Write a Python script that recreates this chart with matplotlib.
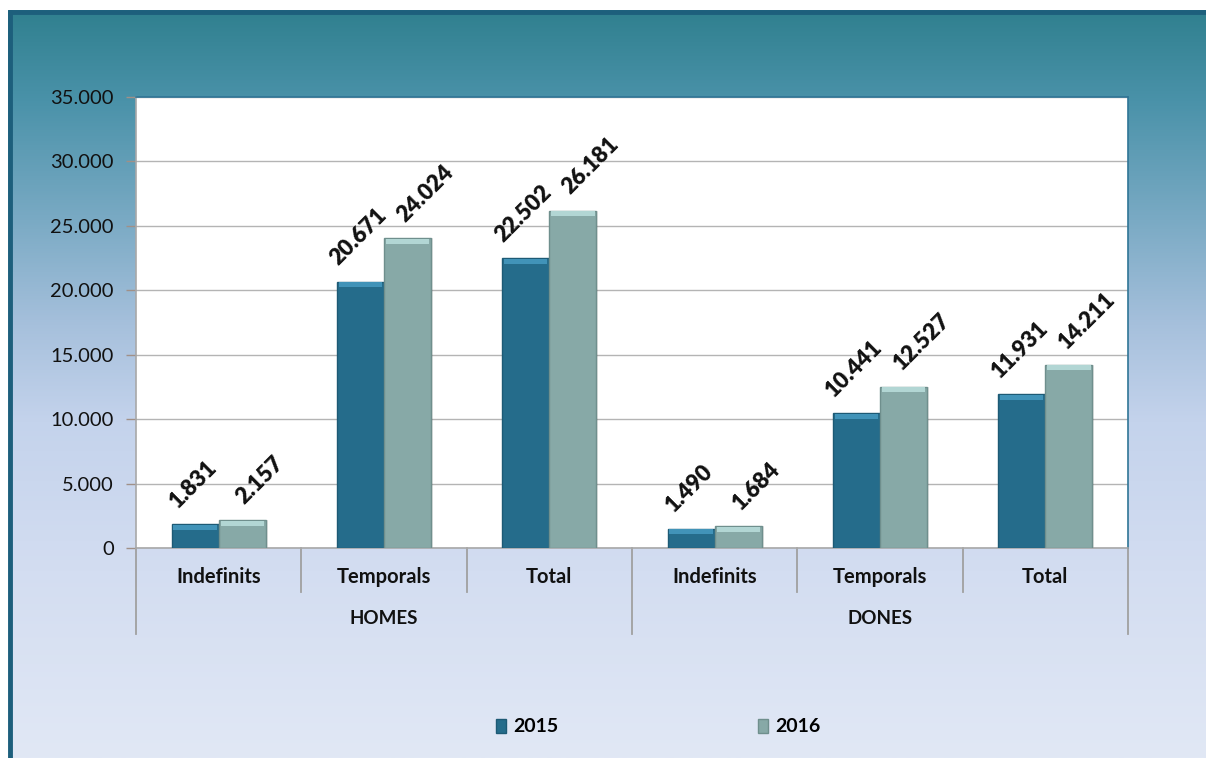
import matplotlib
matplotlib.use("Agg")
import matplotlib.pyplot as plt
import numpy as np
from matplotlib.colors import LinearSegmentedColormap
from matplotlib.patches import Patch
from matplotlib.transforms import blended_transform_factory

plt.rcParams['font.family'] = ['Lato', 'DejaVu Sans']

categories = ["Indefinits", "Temporals", "Total", "Indefinits", "Temporals", "Total"]
groups = ["HOMES", "DONES"]
series_names = ["2015", "2016"]
values_2015 = [1831, 20671, 22502, 1490, 10441, 11931]
values_2016 = [2157, 24024, 26181, 1684, 12527, 14211]
yticks = [0, 5000, 10000, 15000, 20000, 25000, 30000, 35000]
ytick_labels = ["0", "5.000", "10.000", "15.000", "20.000", "25.000", "30.000", "35.000"]

def fmt(v):
    return f"{v:,}".replace(",", ".")

W, H = 1206, 758
fig = plt.figure(figsize=(W / 100, H / 100), dpi=100, facecolor="white")

# background gradient frame
bg = fig.add_axes([8 / W, 0, 1 - 8 / W + 0.01, (H - 10) / H])
bg.set_axis_off()
cmap = LinearSegmentedColormap.from_list(
    "bg",
    [(0.0, "#30808f"), (0.12, "#4a92a9"), (0.28, "#7aaac4"), (0.42, "#a6c0dc"),
     (0.55, "#c4d3ec"), (0.75, "#d3ddf1"), (1.0, "#e1e8f5")])
grad = np.linspace(0, 1, 256).reshape(-1, 1)
bg.imshow(grad, aspect="auto", cmap=cmap, extent=[0, 1, 0, 1], origin="upper")
bg.set_xlim(0, 1)
bg.set_ylim(0, 1)
bg.plot([0, 1], [1 - 1.5 / (H - 10), 1 - 1.5 / (H - 10)], color="#1d5f7c", lw=3.5, solid_capstyle="butt")
bg.plot([1.5 / (W - 8), 1.5 / (W - 8)], [0, 1], color="#1d5f7c", lw=3.5, solid_capstyle="butt")

# main axes
x0, x1, ytop, ybot = 136, 1128, 97, 548
ax = fig.add_axes([x0 / W, (H - ybot) / H, (x1 - x0) / W, (ybot - ytop) / H])
ax.set_facecolor("white")
n = len(categories)
x = np.arange(n)
bw = 0.285
ymax = 35000
ax.set_xlim(-0.5, n - 0.5)
ax.set_ylim(0, ymax)
ax.set_yticks(yticks)
ax.set_yticklabels(ytick_labels, fontsize=14.5, color="#111111")
ax.set_xticks([])
ax.yaxis.grid(True, color="#b4b4b4", lw=1)
ax.set_axisbelow(True)
ax.tick_params(axis="y", length=7, width=1, color="#a09088", pad=9)
for s in ["left", "bottom"]:
    ax.spines[s].set_color("#a8a8a8")
    ax.spines[s].set_linewidth(1.2)
for s in ["top", "right"]:
    ax.spines[s].set_color("#2f7596")
    ax.spines[s].set_linewidth(1.2)

px = ymax / (ybot - ytop)  # data units per pixel
cols = ["#256c8b", "#87a9a7"]
tops = ["#4193b8", "#b2d6d4"]
edges = ["#1d5a75", "#6f8f8d"]
label_dx = [-1.5, 13]  # points
for si, (vals, off) in enumerate([(values_2015, -bw / 2), (values_2016, bw / 2)]):
    c, tc, ec = cols[si], tops[si], edges[si]
    xs = x + off
    ax.bar(xs + 0.012, vals, width=bw, color="#000000", alpha=0.10, zorder=2)
    ax.bar(xs, vals, width=bw, color=c, edgecolor=ec, linewidth=1, zorder=3)
    ax.bar(xs, [5 * px] * n, bottom=np.array(vals) - 5.5 * px, width=bw * 0.92,
           color=tc, linewidth=0, zorder=4)
    for xi, v in zip(xs, vals):
        ax.annotate(fmt(v), (xi, v), xytext=(label_dx[si], 9), textcoords="offset points",
                    rotation=45, rotation_mode="default", ha="center", va="bottom",
                    fontsize=16, fontweight="heavy", color="#111111", zorder=5)

# category axis separators and labels
tr = blended_transform_factory(ax.transData, ax.transAxes)
h_in = 44 / (ybot - ytop)
h_out = 86 / (ybot - ytop)
for i in range(n + 1):
    xb = i - 0.5
    L = h_out if i % 3 == 0 else h_in
    ax.plot([xb, xb], [0, -L], transform=tr, color="#a0a0a0", lw=1.3, clip_on=False)
for i, c in enumerate(categories):
    ax.text(i, -29 / (ybot - ytop), c, transform=tr, ha="center", va="center",
            fontsize=14.5, fontweight="bold", color="#111111")
for g, name in enumerate(groups):
    ax.text(g * 3 + 1, -71 / (ybot - ytop), name, transform=tr, ha="center", va="center",
            fontsize=13.5, fontweight="bold", color="#111111")

# legend
handles = [Patch(facecolor=cols[0], edgecolor=edges[0]), Patch(facecolor=cols[1], edgecolor=edges[1])]
fig.legend(handles, series_names, loc="center", bbox_to_anchor=(658 / W, (H - 727) / H),
           ncol=2, frameon=False, prop={"weight": "bold", "size": 14},
           handlelength=0.55, handleheight=0.7, handletextpad=0.35, columnspacing=10.25)

fig.savefig("out.png", dpi=100, facecolor="white")
